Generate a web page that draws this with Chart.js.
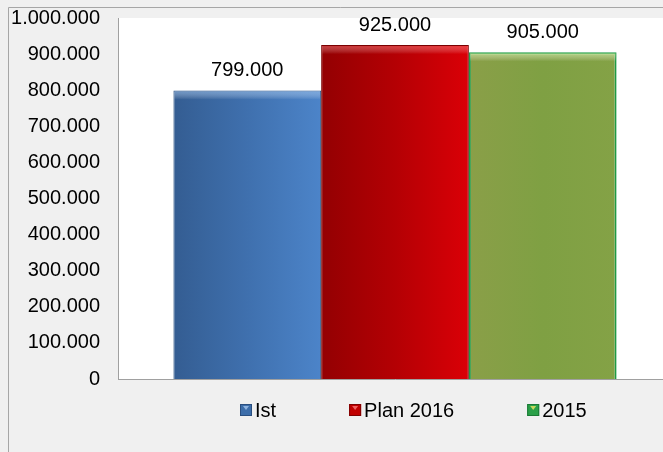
<!DOCTYPE html>
<html>
<head>
<meta charset="utf-8">
<script src="https://cdn.jsdelivr.net/npm/chart.js@4.4.1/dist/chart.umd.min.js"></script>
<style>
  html, body { margin: 0; padding: 0; background: #f0f0f0; overflow: hidden; }
  canvas { display: block; }
</style>
</head>
<body>
<canvas id="chart" width="672" height="452"></canvas>
<script>
// ============================= DADOS =============================
const categories = ['']
const seriesNames = ['Ist', 'Plan 2016', '2015']
const istValues = [799000]
const plan2016Values = [925000]
const values2015 = [905000]
const yMin = 0, yMax = 1000000, yStep = 100000

const fmt = v => String(v).replace(/\B(?=(\d{3})+(?!\d))/g, '.')
const FONT = "'Liberation Sans', Arial, sans-serif"

// ============================= PLUGINS =============================
const frame = {
    id: 'frame',
    beforeDraw(chart){
        const {ctx, chartArea: a, width, height} = chart
        ctx.save()
        ctx.fillStyle = '#f0f0f0'
        ctx.fillRect(0, 0, width, height)
        ctx.strokeStyle = '#a6a6a6'
        ctx.lineWidth = 1
        ctx.beginPath()
        ctx.moveTo(8.5, height)
        ctx.lineTo(8.5, 7.5)
        ctx.lineTo(width, 7.5)
        ctx.stroke()
        ctx.fillStyle = '#ffffff'
        ctx.fillRect(a.left, a.top, a.right - a.left, a.bottom - a.top)
        ctx.restore()
    }
}

// gradiente horizontal em cada barra
const barShade = {
    id: 'barShade',
    beforeDatasetsDraw(chart){
        const ctx = chart.ctx
        chart.data.datasets.forEach((ds, i) => {
            chart.getDatasetMeta(i).data.forEach(el => {
                const g = ctx.createLinearGradient(el.x - el.width / 2, 0, el.x + el.width / 2, 0)
                ds.shade.forEach((c, k) => g.addColorStop(k / (ds.shade.length - 1), c))
                el.options.backgroundColor = g
            })
        })
    },
    afterDatasetsDraw(chart){
        // brilho no topo das barras
        const ctx = chart.ctx
        ctx.save()
        chart.data.datasets.forEach((ds, i) => {
            chart.getDatasetMeta(i).data.forEach(el => {
                const l = el.x - el.width / 2 + 1, w = el.width - 2
                const g = ctx.createLinearGradient(0, el.y, 0, el.y + 9)
                g.addColorStop(0, ds.shine)
                g.addColorStop(1, 'rgba(255,255,255,0)')
                ctx.fillStyle = g
                ctx.fillRect(l, el.y + 1, w, 9)
            })
        })
        ctx.restore()
    }
}

const valueLabels = {
    id: 'valueLabels',
    afterDatasetsDraw(chart){
        const ctx = chart.ctx
        ctx.save()
        ctx.font = '20px ' + FONT
        ctx.fillStyle = '#000'
        ctx.textAlign = 'center'
        ctx.textBaseline = 'middle'
        chart.data.datasets.forEach((ds, i) => {
            chart.getDatasetMeta(i).data.forEach((el, j) => {
                ctx.fillText(fmt(ds.data[j]), el.x, el.y - 20)
            })
        })
        ctx.restore()
    }
}

const legendBox = {
    id: 'legendBox',
    afterDraw(chart){
        const {ctx, chartArea: a} = chart
        const y = a.bottom + 31
        let x = a.left + 122
        ctx.save()
        ctx.font = '20px ' + FONT
        ctx.textBaseline = 'middle'
        chart.data.datasets.forEach(ds => {
            ctx.fillStyle = ds.swatch
            ctx.fillRect(x, y - 6, 12, 12)
            ctx.fillStyle = ds.swatchLight
            ctx.beginPath()
            ctx.moveTo(x + 3, y - 4)
            ctx.lineTo(x + 9, y - 4)
            ctx.lineTo(x + 6, y)
            ctx.fill()
            ctx.strokeStyle = ds.swatchDark
            ctx.strokeRect(x + 0.5, y - 5.5, 11, 11)
            ctx.fillStyle = '#000'
            ctx.fillText(ds.label, x + 15, y + 1)
            x += 15 + ctx.measureText(ds.label).width + 73
        })
        ctx.restore()
    }
}

// ============================= GRÁFICO =============================
const ctxChart = document.getElementById('chart')

new Chart(ctxChart, {
    type: 'bar',
    data: {
        labels: categories,
        datasets: [{
            label: seriesNames[0],
            data: istValues,
            backgroundColor: '#4173b0',
            shade: ['#345d92', '#3f70ae', '#4c84c9'],
            shine: 'rgba(150,190,235,0.6)',
            borderColor: '#2f5686',
            borderWidth: 1,
            swatch: '#3d6eaa', swatchLight: '#8fb4e0', swatchDark: '#2a4f80'
        }, {
            label: seriesNames[1],
            data: plan2016Values,
            backgroundColor: '#b80004',
            shade: ['#930002', '#b40004', '#da0007'],
            shine: 'rgba(255,110,110,0.55)',
            borderColor: '#7a0000',
            borderWidth: 1,
            swatch: '#c00000', swatchLight: '#f06060', swatchDark: '#800000'
        }, {
            label: seriesNames[2],
            data: values2015,
            backgroundColor: '#80a045',
            shade: ['#8a9f48', '#7fa043', '#84a246'],
            shine: 'rgba(200,235,150,0.7)',
            borderColor: '#1f9a45',
            borderWidth: 2,
            swatch: '#2aa048', swatchLight: '#c8d860', swatchDark: '#1a7a35'
        }]
    },
    options: {
        responsive: false,
        animation: false,
        layout: { padding: { left: 0, top: 18, right: 0, bottom: 73 } },
        categoryPercentage: 0.8,
        barPercentage: 1,
        plugins: { legend: { display: false }, tooltip: { enabled: false } },
        scales: {
            x: {
                ticks: { display: false },
                grid: { display: false, drawTicks: false },
                border: { display: true, color: '#a0a0a0', width: 1 },
                afterFit: s => { s.height = 0 }
            },
            y: {
                min: yMin,
                max: yMax,
                ticks: {
                    stepSize: yStep,
                    padding: 18,
                    color: '#000',
                    font: { family: FONT, size: 20 },
                    callback: v => fmt(v)
                },
                grid: { display: false, drawTicks: false },
                border: { display: true, color: '#a0a0a0', width: 1 },
                afterFit: s => { s.width = 118; s.paddingTop = 0; s.paddingBottom = 0 }
            }
        }
    },
    plugins: [frame, barShade, valueLabels, legendBox]
})
</script>
</body>
</html>
